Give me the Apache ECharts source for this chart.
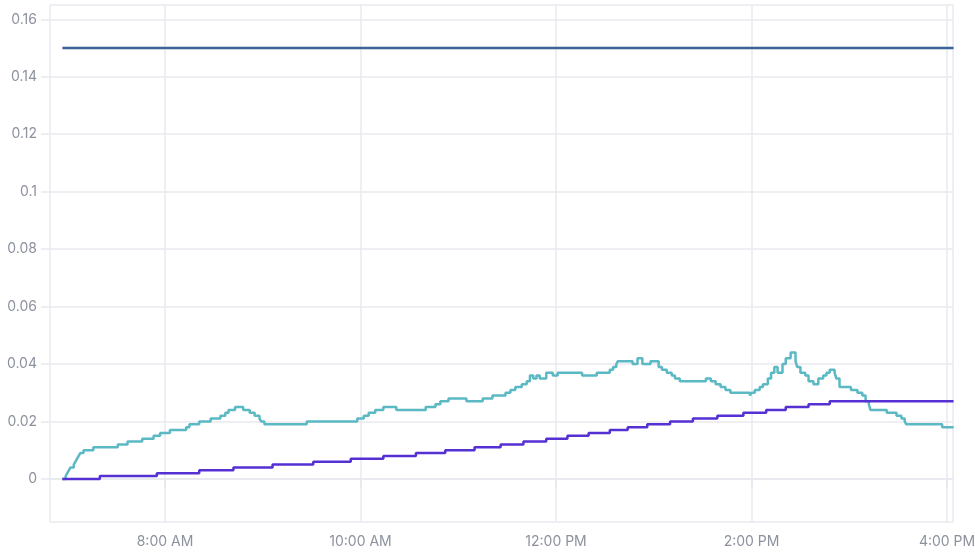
<!DOCTYPE html>
<html>
<head>
<meta charset="utf-8">
<script src="https://cdn.jsdelivr.net/npm/echarts@6/dist/echarts.min.js"></script>
<style>
  html, body { margin: 0; padding: 0; background: #fff; }
  #chart { width: 975px; height: 559px; }
</style>
</head>
<body>
<div id="chart"></div>
<script>
// flat limit line
var limitTimes = ['6:57', '16:04'];
var limitValues = [0.15, 0.15];

// teal step series
var tealTimes = ['6:57','6:59','7:00','7:01','7:02','7:04','7:05','7:06','7:07','7:08',
    '7:10','7:16','7:31','7:37','7:46','7:53','7:57','8:03','8:13','8:15',
    '8:21','8:28','8:34','8:37','8:39','8:43','8:48','8:52','8:55','8:58',
    '8:59','9:01','9:27','9:58','10:02','10:05','10:09','10:14','10:22','10:40',
    '10:46','10:49','10:54','11:05','11:15','11:21','11:29','11:32','11:35','11:39',
    '11:42','11:44','11:46','11:48','11:50','11:54','11:58','12:01','12:16','12:25',
    '12:33','12:35','12:37','12:38','12:47','12:50','12:53','12:58','13:03','13:05',
    '13:08','13:11','13:13','13:16','13:32','13:35','13:38','13:41','13:44','13:47',
    '13:59','14:00','14:02','14:05','14:07','14:10','14:12','14:14','14:16','14:19',
    '14:21','14:24','14:27','14:28','14:30','14:33','14:35','14:38','14:41','14:44',
    '14:46','14:48','14:51','14:52','14:54','15:01','15:05','15:08','15:10','15:12',
    '15:13','15:23','15:29','15:32','15:34','15:35','15:57','16:04'];
var tealValues = [0,0.001,0.002,0.003,0.004,0.005,0.006,0.007,0.008,0.009,
    0.010,0.011,0.012,0.013,0.014,0.015,0.016,0.017,0.018,0.019,
    0.020,0.021,0.022,0.023,0.024,0.025,0.024,0.023,0.022,0.021,
    0.020,0.019,0.020,0.021,0.022,0.023,0.024,0.025,0.024,0.025,
    0.026,0.027,0.028,0.027,0.028,0.029,0.030,0.031,0.032,0.033,
    0.034,0.036,0.035,0.036,0.035,0.037,0.036,0.037,0.036,0.037,
    0.038,0.039,0.040,0.041,0.040,0.042,0.040,0.041,0.039,0.038,
    0.037,0.036,0.035,0.034,0.035,0.034,0.033,0.032,0.031,0.030,
    0.029,0.030,0.031,0.032,0.033,0.035,0.037,0.039,0.037,0.040,
    0.042,0.044,0.041,0.039,0.037,0.036,0.034,0.033,0.035,0.036,
    0.037,0.038,0.037,0.035,0.032,0.031,0.030,0.029,0.027,0.026,
    0.024,0.023,0.022,0.021,0.020,0.019,0.018,0.018];

// purple step series
var purpleTimes = ['6:57','7:20','7:55','8:21','8:42','9:06','9:31','9:54','10:14','10:34',
    '10:52','11:10','11:26','11:40','11:54','12:07','12:20','12:33','12:44','12:56',
    '13:10','13:24','13:39','13:55','14:09','14:21','14:35','14:48','16:04'];
var purpleValues = [0,0.001,0.002,0.003,0.004,0.005,0.006,0.007,0.008,0.009,
    0.010,0.011,0.012,0.013,0.014,0.015,0.016,0.017,0.018,0.019,
    0.020,0.021,0.022,0.023,0.024,0.025,0.026,0.027,0.027];

// "HH:MM" -> decimal hours
function toHours(t) {
    var p = t.split(':');
    return parseInt(p[0], 10) + parseInt(p[1], 10) / 60;
}
function pairs(times, values) {
    var out = [];
    for (var i = 0; i < times.length; i++) {
        out.push([toHours(times[i]), values[i]]);
    }
    return out;
}
function hourLabel(v) {
    var h = Math.round(v);
    var ampm = h >= 12 ? 'PM' : 'AM';
    var h12 = h % 12 === 0 ? 12 : h % 12;
    return h12 + ':00 ' + ampm;
}

var gridColor = '#e8e9ef';
var labelColor = '#8c919e';

var chart = echarts.init(document.getElementById('chart'));
var option = {
    animation: false,
    textStyle: { fontFamily: 'Inter' },
    grid: { left: 50, right: 22, top: 5, bottom: 37, containLabel: false, outerBoundsMode: 'none' },
    xAxis: {
        type: 'value',
        min: 6.8235,
        max: 16.061,
        splitNumber: 5,
        axisLine: { lineStyle: { color: gridColor, width: 1.5 } },
        axisTick: { show: true, length: 9, lineStyle: { color: gridColor, width: 1.5 } },
        splitLine: { show: true, lineStyle: { color: gridColor, width: 1.5 } },
        axisLabel: {
            color: labelColor, fontSize: 14, margin: 13,
            showMinLabel: false, showMaxLabel: false,
            formatter: hourLabel
        }
    },
    yAxis: {
        type: 'value',
        min: -0.015,
        max: 0.165,
        splitNumber: 9,
        axisLine: { show: false },
        axisTick: { show: true, length: 9, lineStyle: { color: gridColor, width: 1.5 } },
        splitLine: { show: true, lineStyle: { color: gridColor, width: 1.5 } },
        axisLabel: {
            color: labelColor, fontSize: 14, margin: 13,
            showMinLabel: false, showMaxLabel: false
        }
    },
    series: [
        {
            type: 'line',
            data: pairs(limitTimes, limitValues),
            showSymbol: false,
            lineStyle: { color: '#3a6499', width: 2.5 }
        },
        {
            type: 'line',
            step: 'end',
            data: pairs(tealTimes, tealValues),
            showSymbol: false,
            lineStyle: { color: '#5bb9c3', width: 2.5 }
        },
        {
            type: 'line',
            step: 'end',
            data: pairs(purpleTimes, purpleValues),
            showSymbol: false,
            lineStyle: { color: '#5531d4', width: 2.5 }
        }
    ]
};
chart.setOption(option);
</script>
</body>
</html>
